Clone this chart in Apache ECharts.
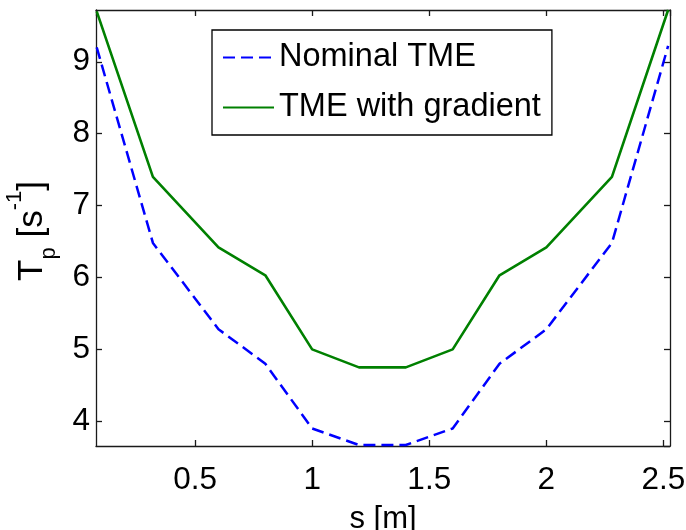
<!DOCTYPE html>
<html><head><meta charset="utf-8">
<script src="https://cdn.jsdelivr.net/npm/echarts@6/dist/echarts.min.js"></script>
<style>html,body{margin:0;padding:0;background:#fff}#c{width:686px;height:530px}</style>
</head><body><div id="c"></div>
<script>
const sValues = [0.08, 0.32, 0.6, 0.8, 1.0, 1.2, 1.4, 1.6, 1.8, 2.0, 2.28, 2.52];
const nominalTME = [9.2, 6.48, 5.28, 4.8, 3.9, 3.67, 3.67, 3.9, 4.8, 5.28, 6.48, 9.22];
const tmeGradient = [9.7, 7.4, 6.42, 6.03, 5.0, 4.75, 4.75, 5.0, 6.03, 6.42, 7.4, 9.72];
const xTickLabels = ['0.5', '1', '1.5', '2', '2.5'];
const yTickLabels = ['4', '5', '6', '7', '8', '9'];
const seriesNames = ['Nominal TME', 'TME with gradient'];

const FONT = "'Liberation Sans', Arial, sans-serif";
const AX = '#1a1a1a';
const xMin = 0.077, xMax = 2.528, yMin = 3.656, yMax = 9.72;

function fmt(list) {
  return function (v) {
    const s = String(Math.round(v * 1000) / 1000);
    return list.indexOf(s) >= 0 ? s : '';
  };
}
const baseAxis = {
  type: 'value', scale: true,
  axisLine: { show: true, onZero: false, lineStyle: { color: AX, width: 1.3 } },
  axisTick: { show: true, inside: true, length: 6, lineStyle: { color: AX, width: 1.3 } },
  splitLine: { show: false }
};
const chart = echarts.init(document.getElementById('c'));
chart.setOption({
  backgroundColor: '#fff',
  animation: false,
  grid: { left: 96, right: 16, top: 10, bottom: 84, containLabel: false, outerBoundsMode: 'none' },
  legend: {
    orient: 'vertical', left: 212, top: 30,
    padding: [11, 11, 11, 10], itemGap: 17,
    itemWidth: 51, itemHeight: 32,
    borderColor: '#000', borderWidth: 1.3, backgroundColor: '#fff',
    itemStyle: { opacity: 0 },
    textStyle: { fontFamily: FONT, fontSize: 32.5, color: '#000', lineHeight: 32 },
    data: seriesNames
  },
  xAxis: [
    Object.assign({}, baseAxis, {
      position: 'bottom', min: xMin, max: xMax, splitNumber: 5,
      axisLabel: { show: true, formatter: fmt(xTickLabels), margin: 18, fontFamily: FONT, fontSize: 31.5, color: '#000', showMinLabel: false, showMaxLabel: false },
      name: 's [m]', nameLocation: 'middle', nameGap: 58,
      nameTextStyle: { fontFamily: FONT, fontSize: 31, color: '#000' }
    }),
    Object.assign({}, baseAxis, {
      position: 'top', min: xMin, max: xMax, splitNumber: 5,
      axisLabel: { show: false }
    })
  ],
  yAxis: [
    Object.assign({}, baseAxis, {
      position: 'left', min: yMin, max: yMax, splitNumber: 6,
      axisLabel: { show: true, formatter: fmt(yTickLabels), margin: 6, padding: [8, 0, 0, 0], fontFamily: FONT, fontSize: 31.5, color: '#000', showMinLabel: false, showMaxLabel: false },
      name: '{a|T}{sub|p}{a| [s}{sup|-1}{e|]}', nameLocation: 'middle', nameGap: 36, nameRotate: 90,
      nameTextStyle: {
        fontFamily: FONT, fontSize: 35, color: '#000',
        rich: {
          a: { fontFamily: FONT, fontSize: 35, color: '#000', lineHeight: 56, verticalAlign: 'middle' },
          e: { fontFamily: FONT, fontSize: 35, color: '#000', lineHeight: 56, verticalAlign: 'middle', padding: [0, 6, 0, 0] },
          sub: { fontFamily: FONT, fontSize: 22, color: '#000', lineHeight: 16, verticalAlign: 'bottom' },
          sup: { fontFamily: FONT, fontSize: 22, color: '#000', lineHeight: 33, verticalAlign: 'top' }
        }
      }
    }),
    Object.assign({}, baseAxis, {
      position: 'right', min: yMin, max: yMax, splitNumber: 6,
      axisLabel: { show: false }
    })
  ],
  series: [
    {
      name: seriesNames[0], type: 'line', xAxisIndex: 0, yAxisIndex: 0,
      data: sValues.map((s, i) => [s, nominalTME[i]]),
      symbol: 'none', showSymbol: false,
      lineStyle: { color: '#0000ff', width: 2.5, type: [12, 6] },
      itemStyle: { color: '#0000ff' }
    },
    {
      name: seriesNames[1], type: 'line', xAxisIndex: 0, yAxisIndex: 0,
      data: sValues.map((s, i) => [s, tmeGradient[i]]),
      symbol: 'none', showSymbol: false,
      lineStyle: { color: '#008000', width: 2.6, type: 'solid' },
      itemStyle: { color: '#008000' }
    }
  ]
});
</script></body></html>
